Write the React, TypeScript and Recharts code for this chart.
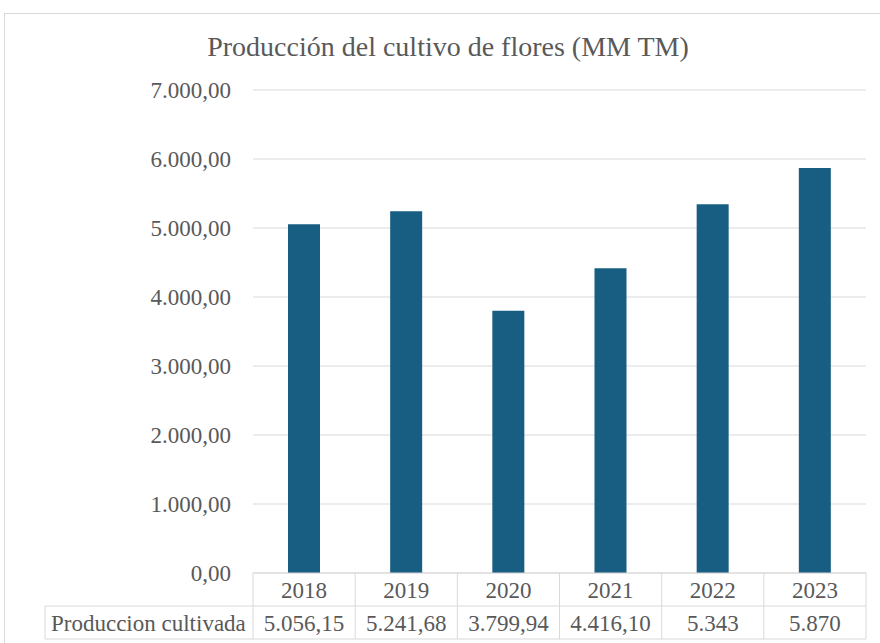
import { BarChart, Bar, XAxis, YAxis, CartesianGrid } from 'recharts';

const years = ['2018', '2019', '2020', '2021', '2022', '2023'];
const production = [5056.15, 5241.68, 3799.94, 4416.1, 5343, 5870];
const productionLabels = ['5.056,15', '5.241,68', '3.799,94', '4.416,10', '5.343', '5.870'];
const yTicks = [0, 1000, 2000, 3000, 4000, 5000, 6000, 7000];

const data = years.map((year, i) => ({ year, value: production[i], label: productionLabels[i] }));

const GRID = '#d9d9d9';
const TEXT = '#595959';
const FONT = 'Liberation Serif';

const PLOT_LEFT = 253;
const PLOT_RIGHT = 866;
const BAND = (PLOT_RIGHT - PLOT_LEFT) / years.length;

const fmtTick = (v: number) =>
  v.toLocaleString('de-DE', { minimumFractionDigits: 2, maximumFractionDigits: 2 });

// x-axis ticks double as the data table below the plot
function TableTick(props: any) {
  const { x, y, payload, index } = props;
  const row = data[index];
  const left = x - BAND / 2;
  const right = x + BAND / 2;
  return (
    <g>
      {index === 0 && (
        <>
          <line x1={45} y1={y + 33} x2={PLOT_RIGHT} y2={y + 33} stroke={GRID} />
          <line x1={45} y1={y + 66} x2={PLOT_RIGHT} y2={y + 66} stroke={GRID} />
          <line x1={45} y1={y + 33} x2={45} y2={y + 66} stroke={GRID} />
          <text x={51} y={y + 58} fontSize={23} fill={TEXT} fontFamily={FONT}>
            Produccion cultivada
          </text>
        </>
      )}
      <line x1={left} y1={y} x2={left} y2={y + 66} stroke={GRID} />
      {index === years.length - 1 && <line x1={right} y1={y} x2={right} y2={y + 66} stroke={GRID} />}
      <text x={x} y={y + 25} textAnchor="middle" fontSize={23} fill={TEXT} fontFamily={FONT}>
        {payload.value}
      </text>
      <text x={x} y={y + 58} textAnchor="middle" fontSize={23} fill={TEXT} fontFamily={FONT}>
        {row ? row.label : ''}
      </text>
    </g>
  );
}

export default function App() {
  return (
    <div style={{ position: 'absolute', left: 0, top: 0, width: 880, height: 643, overflow: 'hidden', background: '#fff' }}>
      <div
        style={{
          position: 'absolute',
          left: 4,
          top: 13,
          width: 900,
          height: 700,
          border: `1px solid ${GRID}`,
        }}
      />
      <div
        style={{
          position: 'absolute',
          left: 0,
          top: 31,
          width: 896,
          textAlign: 'center',
          fontFamily: FONT,
          fontSize: 28,
          color: TEXT,
        }}
      >
        Producción del cultivo de flores (MM TM)
      </div>
      <div style={{ position: 'absolute', left: 0, top: 0 }}>
        <BarChart
          width={880}
          height={643}
          data={data}
          margin={{ top: 90, right: 880 - PLOT_RIGHT, left: 10, bottom: 0 }}
          barSize={32}
        >
          <CartesianGrid vertical={false} stroke={GRID} />
          <YAxis
            width={PLOT_LEFT - 10}
            domain={[0, 7000]}
            ticks={yTicks}
            tickFormatter={fmtTick}
            axisLine={false}
            tickLine={false}
            tickMargin={16}
            tick={{ fontSize: 23, fill: TEXT, fontFamily: FONT }}
            interval={0}
          />
          <XAxis
            dataKey="year"
            height={70}
            axisLine={{ stroke: GRID }}
            tickLine={false}
            tickSize={0}
            tickMargin={0}
            interval={0}
            tick={<TableTick />}
          />
          <Bar dataKey="value" fill="#175e82" isAnimationActive={false} />
        </BarChart>
      </div>
    </div>
  );
}
